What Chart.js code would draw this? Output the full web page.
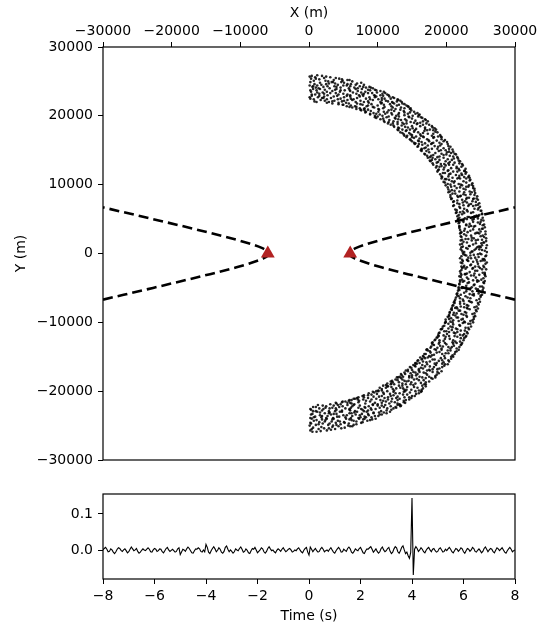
<!DOCTYPE html>
<html>
<head>
<meta charset="utf-8">
<title>Source locations</title>
<script src="https://cdn.jsdelivr.net/npm/chart.js@4.4.1/dist/chart.umd.min.js"></script>
<style>
  body { margin: 0; background: #fff; }
  #map { position: absolute; left: 0; top: 0; }
  #trace { position: absolute; left: 0; top: 480px; }
</style>
</head>
<body>
<canvas id="map" width="543" height="480"></canvas>
<canvas id="trace" width="543" height="145"></canvas>
<script>
// stations (m)
var stationX = [-6000, 6000];
var stationY = [0, 0];

// dashed hyperbola branches, km
var branchY = [-6.7, -6, -5, -4, -3, -2.5, -2, -1.5, -1, -0.75, -0.5, -0.25, 0, 0.25, 0.5, 0.75, 1, 1.5, 2, 2.5, 3, 4, 5, 6, 6.7];
var eastX = [30.0, 26.99, 22.72, 18.51, 14.41, 12.44, 10.55, 8.81, 7.32, 6.71, 6.25, 5.95, 5.85, 5.95, 6.25, 6.71, 7.32, 8.81, 10.55, 12.44, 14.41, 18.51, 22.72, 26.99, 30.0];
var westX = [-30.0, -26.99, -22.72, -18.51, -14.41, -12.44, -10.55, -8.81, -7.32, -6.71, -6.25, -5.95, -5.85, -5.95, -6.25, -6.71, -7.32, -8.81, -10.55, -12.44, -14.41, -18.51, -22.72, -26.99, -30.0];

// scattered sources [x, y], km
var sources = [
[0.4,25.8],[1.9,25.8],[0.9,25.6],[3.1,25.6],[2.2,25.5],[4.4,25.4],[0.3,25.4],[1.5,25.3],[5.6,25.2],[3.6,25.2],[0.7,25.1],[2.8,25.0],[6.3,25.0],[4.9,25.1],
[0.2,24.9],[1.6,24.8],[3.3,24.9],[5.1,24.8],[7.0,24.7],[0.8,24.6],[2.5,24.6],[4.2,24.5],[6.1,24.6],[8.0,24.5],[1.2,24.4],[3.7,24.3],[5.5,24.4],[7.4,24.3],[8.8,24.2],[0.5,24.2],[2.1,24.2],[4.6,24.1],[6.6,24.1],[9.3,24.0],[1.4,24.0],[3.0,24.0],[5.8,24.0],[8.3,24.1],[0.1,24.4],[7.6,24.8],
[0.6,23.9],[2.3,23.8],[4.0,23.9],[5.9,23.8],[7.7,23.9],[9.6,23.8],[1.1,23.7],[3.4,23.6],[5.2,23.7],[7.1,23.6],[8.9,23.7],[10.4,23.6],[0.3,23.5],[2.0,23.4],[4.5,23.5],[6.4,23.4],[8.2,23.5],[9.9,23.4],[11.1,23.3],[1.5,23.2],[3.1,23.3],[5.0,23.2],[6.9,23.2],[8.6,23.3],[10.7,23.2],[0.9,23.1],[2.7,23.0],[4.3,23.1],[6.0,23.0],[7.8,23.1],[9.5,23.0],[11.6,23.0],[3.8,23.8],
[0.4,22.9],[2.2,22.8],[4.1,22.9],[6.0,22.8],[7.9,22.9],[9.8,22.8],[11.7,22.8],[1.3,22.7],[3.2,22.6],[5.1,22.7],[7.0,22.6],[8.8,22.7],[10.6,22.6],[12.4,22.6],[0.2,22.5],[2.6,22.4],[4.6,22.5],[6.5,22.4],[8.3,22.5],[10.1,22.4],[11.9,22.5],[13.0,22.3],[1.7,22.3],[3.7,22.2],[5.6,22.3],[7.5,22.2],[9.3,22.3],[11.2,22.2],[12.8,22.1],[0.8,22.1],[2.9,22.0],[4.8,22.1],[6.8,22.0],[8.6,22.1],[10.4,22.0],[12.1,22.0],[13.5,22.0],[1.9,22.6],[9.6,22.9],
[2.6,21.9],[5.4,21.9],[8.7,21.9],[12.2,21.9],[3.4,21.8],[7.0,21.8],[10.5,21.8],[13.6,21.8],[4.3,21.7],[9.1,21.7],[11.8,21.7],[5.0,21.6],[7.8,21.6],[13.1,21.6],[6.1,21.5],[10.0,21.5],[14.2,21.5],[5.5,21.4],[8.4,21.4],[12.0,21.4],[6.9,21.3],[11.0,21.3],[14.5,21.3],[6.3,21.2],[9.5,21.2],[13.4,21.2],[7.4,21.1],[10.8,21.1],[14.8,21.1],[8.0,21.0],[12.6,21.0],
[7.5,20.9],[10.2,20.9],[13.3,20.9],[8.1,20.8],[11.6,20.8],[14.9,20.8],[9.0,20.7],[12.4,20.7],[8.3,20.6],[10.9,20.6],[15.3,20.6],[13.9,20.5],[9.4,20.4],[12.0,20.4],[15.8,20.4],[8.9,20.3],[11.1,20.3],[14.4,20.3],[10.3,20.2],[13.0,20.2],[16.0,20.1],[9.6,20.0],[12.7,20.0],[15.1,20.0],
[10.0,19.9],[13.1,19.9],[15.9,19.9],[11.3,19.8],[14.6,19.8],[9.8,19.7],[12.5,19.7],[16.5,19.7],[10.8,19.6],[14.0,19.5],[16.9,19.5],[11.7,19.4],[13.4,19.4],[15.5,19.3],[10.9,19.3],[12.3,19.2],[17.3,19.2],[14.8,19.1],[11.6,19.1],[16.2,19.0],[13.6,19.0],
[11.5,18.9],[14.2,18.9],[17.1,18.9],[12.9,18.8],[15.7,18.8],[11.9,18.7],[16.6,18.7],[13.5,18.6],[15.0,18.5],[17.9,18.5],[12.4,18.4],[14.4,18.3],[16.9,18.3],[13.1,18.2],[18.3,18.2],[15.6,18.1],[12.9,18.0],[14.7,18.0],[17.6,18.0],
[13.0,17.9],[15.4,17.9],[18.1,17.9],[14.1,17.8],[16.8,17.8],[13.3,17.6],[15.9,17.6],[18.7,17.6],[14.6,17.5],[17.3,17.4],[13.8,17.3],[16.2,17.3],[19.1,17.2],[15.0,17.2],[14.3,17.1],[17.9,17.1],[16.6,17.0],[18.8,17.0],
[14.2,16.9],[16.7,16.9],[19.3,16.9],[15.3,16.8],[18.1,16.8],[14.7,16.6],[17.2,16.6],[19.8,16.5],[15.9,16.4],[18.6,16.4],[15.0,16.3],[17.5,16.3],[20.1,16.2],[16.4,16.2],[19.0,16.1],[15.5,16.0],[17.9,16.0],
[15.4,15.9],[17.8,15.9],[20.2,15.9],[16.5,15.8],[19.1,15.7],[15.9,15.6],[18.3,15.6],[20.6,15.5],[17.0,15.4],[19.6,15.3],[16.4,15.2],[18.7,15.2],[20.9,15.1],[17.4,15.1],[16.3,15.0],[19.9,15.0],
[16.4,14.9],[18.9,14.9],[21.0,14.8],[17.5,14.7],[20.1,14.7],[16.8,14.5],[19.3,14.5],[21.4,14.4],[18.1,14.3],[20.5,14.2],[17.2,14.2],[19.0,14.1],[21.6,14.0],[17.6,14.0],[20.0,14.4],
[17.3,13.9],[19.6,13.9],[21.7,13.8],[18.4,13.7],[20.8,13.6],[17.6,13.5],[19.9,13.4],[22.0,13.4],[18.8,13.3],[21.2,13.2],[18.0,13.1],[20.3,13.1],[22.3,13.0],[19.2,13.0],[17.9,13.6],
[18.1,12.9],[20.4,12.9],[22.4,12.8],[19.3,12.7],[21.5,12.6],[18.5,12.5],[20.7,12.4],[22.8,12.3],[19.6,12.2],[21.9,12.1],[18.8,12.1],[20.2,12.0],[22.6,12.0],[19.0,12.6],
[18.7,11.9],[21.0,11.9],[22.9,11.8],[19.8,11.7],[22.2,11.6],[19.1,11.5],[21.4,11.4],[23.3,11.3],[20.3,11.2],[22.6,11.1],[19.4,11.1],[21.8,11.0],[20.6,11.6],[23.4,11.0],
[19.3,10.9],[21.6,10.9],[23.5,10.7],[20.4,10.7],[22.5,10.5],[19.6,10.4],[21.1,10.3],[23.8,10.2],[20.2,10.1],[22.1,10.0],[19.8,10.8],[22.9,10.9],[20.8,10.5],
[19.9,9.9],[22.3,9.9],[23.9,9.8],[20.7,9.7],[21.5,9.5],[24.1,9.4],[20.3,9.3],[22.8,9.3],[21.2,9.1],[23.4,9.0],[20.5,9.0],[22.0,9.6],[23.2,9.7],
[20.3,8.9],[22.6,8.9],[24.2,8.8],[21.3,8.7],[23.5,8.6],[20.6,8.5],[22.1,8.4],[24.5,8.3],[21.7,8.2],[23.0,8.1],[20.8,8.0],[24.0,8.0],[22.8,8.5],
[20.7,7.9],[22.9,7.9],[24.6,7.8],[21.6,7.7],[23.8,7.6],[21.0,7.5],[22.4,7.4],[24.8,7.3],[21.9,7.2],[23.3,7.1],[21.1,7.0],[24.3,7.0],[22.7,7.6],
[21.0,6.9],[23.2,6.9],[24.9,6.8],[22.0,6.6],[24.1,6.5],[21.3,6.4],[23.0,6.3],[25.1,6.2],[22.4,6.1],[23.9,6.0],[21.5,6.0],[24.6,6.4],
[21.4,5.9],[23.6,5.9],[25.2,5.8],[22.3,5.7],[24.4,5.5],[21.6,5.4],[23.1,5.3],[25.3,5.2],[22.7,5.1],[24.0,5.0],[21.7,5.0],[24.8,5.6],
[21.7,4.9],[23.8,4.9],[25.4,4.8],[22.5,4.6],[24.6,4.5],[21.8,4.4],[23.4,4.3],[25.5,4.2],[22.9,4.1],[24.2,4.0],[21.9,4.0],[25.0,4.6],
[21.9,3.9],[24.0,3.9],[25.6,3.8],[22.7,3.6],[24.8,3.5],[22.0,3.4],[23.5,3.3],[25.7,3.2],[23.1,3.1],[24.4,3.0],[22.1,3.0],[25.2,3.6],
[22.0,2.9],[24.2,2.9],[25.7,2.8],[22.9,2.6],[25.0,2.5],[22.2,2.4],[23.7,2.3],[25.8,2.2],[23.2,2.1],[24.6,2.0],[22.3,2.0],[25.3,2.6],
[22.1,1.9],[24.3,1.9],[25.8,1.8],[23.0,1.6],[25.1,1.5],[22.3,1.4],[23.9,1.3],[25.9,1.2],[23.4,1.1],[24.7,1.0],[22.4,1.0],[25.4,1.6],
[22.2,0.9],[24.5,0.9],[25.8,0.8],[23.1,0.7],[25.2,0.5],[22.3,0.4],[23.8,0.3],[25.9,0.2],[23.5,0.1],[24.8,0.6],[22.6,0.2],[24.1,0.5],
[22.3,-0.9],[25.5,-0.8],[23.6,-0.7],[24.7,-0.5],[22.2,-0.4],[25.8,-0.3],[24.0,-0.2],[22.5,-0.1],[25.1,-0.1],[23.2,-0.6],[24.4,-0.9],[22.9,-0.3],
[22.2,-1.9],[25.4,-1.8],[23.5,-1.7],[24.6,-1.5],[22.3,-1.4],[25.9,-1.3],[23.9,-1.2],[22.4,-1.1],[25.0,-1.1],[23.1,-1.0],[25.6,-1.0],[24.2,-1.9],
[22.1,-2.9],[25.3,-2.8],[23.4,-2.7],[24.5,-2.5],[22.2,-2.4],[25.8,-2.3],[23.8,-2.2],[22.3,-2.1],[24.9,-2.1],[23.0,-2.0],[25.5,-2.0],[24.1,-2.9],
[22.0,-3.9],[25.1,-3.8],[23.2,-3.7],[24.3,-3.5],[22.1,-3.4],[25.7,-3.3],[23.6,-3.2],[22.2,-3.1],[24.8,-3.1],[22.8,-3.0],[25.6,-3.0],[23.9,-3.9],
[21.8,-4.9],[24.9,-4.8],[22.9,-4.7],[24.1,-4.5],[21.9,-4.4],[25.5,-4.3],[23.3,-4.2],[22.0,-4.1],[24.5,-4.1],[22.6,-4.0],[25.6,-4.0],[23.7,-4.9],
[21.5,-5.9],[24.7,-5.8],[22.6,-5.7],[23.8,-5.5],[21.7,-5.4],[25.3,-5.3],[23.0,-5.2],[21.8,-5.1],[24.3,-5.1],[22.4,-5.0],[25.4,-5.0],[23.4,-5.9],
[21.2,-6.9],[24.4,-6.8],[22.4,-6.7],[23.5,-6.5],[21.4,-6.4],[25.0,-6.3],[22.8,-6.2],[21.6,-6.1],[24.0,-6.1],[22.1,-6.0],[25.2,-6.0],[23.3,-6.9],
[20.8,-7.9],[24.1,-7.8],[22.1,-7.7],[23.2,-7.6],[21.0,-7.5],[24.7,-7.4],[22.6,-7.3],[21.2,-7.2],[23.7,-7.1],[22.0,-7.0],[24.9,-7.0],[21.5,-7.8],[23.0,-7.9],
[20.4,-8.9],[23.8,-8.8],[21.5,-8.7],[22.9,-8.6],[20.5,-8.5],[24.4,-8.4],[22.0,-8.3],[20.8,-8.2],[23.4,-8.1],[21.6,-8.0],[24.6,-8.0],[22.5,-8.9],[21.1,-8.6],
[19.9,-9.9],[23.5,-9.8],[21.0,-9.7],[22.2,-9.6],[20.4,-9.5],[24.0,-9.5],[21.7,-9.3],[20.2,-9.2],[23.0,-9.2],[21.3,-9.0],[24.2,-9.1],[22.6,-9.9],[20.7,-9.4],
[19.4,-10.9],[22.8,-10.8],[20.9,-10.7],[23.6,-10.6],[19.7,-10.5],[21.9,-10.4],[20.3,-10.2],[23.2,-10.2],[19.9,-10.0],[22.4,-10.1],[21.4,-10.9],[20.6,-10.6],[23.9,-10.0],
[18.8,-11.9],[22.0,-11.8],[20.1,-11.7],[23.1,-11.6],[19.0,-11.5],[21.6,-11.4],[19.7,-11.3],[22.7,-11.2],[20.8,-11.1],[19.3,-11.0],[23.3,-11.0],[21.3,-11.6],[22.4,-11.9],[20.4,-11.4],
[18.0,-12.9],[21.3,-12.8],[19.6,-12.7],[22.5,-12.6],[18.4,-12.5],[20.5,-12.4],[22.1,-12.3],[18.7,-12.2],[19.9,-12.1],[21.2,-12.0],[22.8,-12.1],[18.9,-12.0],[20.9,-12.9],[19.0,-12.6],
[17.2,-13.9],[20.6,-13.8],[18.7,-13.7],[21.9,-13.6],[17.8,-13.5],[19.5,-13.5],[21.1,-13.4],[18.2,-13.3],[20.0,-13.2],[22.2,-13.2],[18.9,-13.1],[21.5,-13.0],[17.9,-13.0],[19.3,-13.8],[20.8,-13.6],
[16.6,-14.9],[19.7,-14.9],[18.2,-14.7],[21.2,-14.6],[17.0,-14.6],[20.3,-14.5],[17.7,-14.4],[19.0,-14.3],[21.5,-14.2],[17.3,-14.1],[20.6,-14.1],[18.5,-14.0],[17.9,-14.8],[19.4,-14.6],[21.8,-14.0],
[15.5,-15.9],[18.6,-15.9],[17.1,-15.8],[20.4,-15.7],[15.8,-15.6],[19.4,-15.5],[16.4,-15.4],[18.0,-15.4],[20.7,-15.3],[16.9,-15.2],[19.2,-15.2],[16.2,-15.1],[21.0,-15.0],[17.7,-15.0],[18.9,-15.6],[16.6,-15.7],
[14.4,-16.9],[17.5,-16.9],[16.0,-16.8],[19.0,-16.7],[14.9,-16.6],[18.2,-16.5],[15.5,-16.4],[16.9,-16.4],[19.7,-16.3],[15.2,-16.2],[18.5,-16.2],[17.2,-16.1],[20.2,-16.1],[15.7,-16.0],[16.3,-16.6],[19.4,-16.0],[18.0,-16.8],
[13.2,-17.9],[16.1,-17.9],[14.6,-17.8],[18.4,-17.8],[13.5,-17.7],[17.2,-17.6],[14.0,-17.5],[15.8,-17.5],[18.9,-17.4],[13.9,-17.3],[16.7,-17.3],[15.2,-17.2],[18.0,-17.2],[14.4,-17.1],[19.3,-17.1],[16.0,-17.0],[17.6,-17.0],[15.0,-17.7],
[11.4,-18.9],[13.6,-18.9],[16.3,-18.8],[12.2,-18.7],[14.9,-18.7],[17.5,-18.6],[12.1,-18.5],[13.9,-18.5],[16.0,-18.4],[12.6,-18.3],[15.3,-18.3],[18.0,-18.2],[13.4,-18.1],[17.0,-18.1],[12.8,-18.0],[14.6,-18.0],[16.5,-18.0],[18.4,-18.0],[14.2,-18.6],
[10.1,-19.9],[12.4,-19.9],[14.9,-19.8],[16.4,-19.8],[10.6,-19.7],[13.7,-19.6],[11.2,-19.5],[15.8,-19.5],[12.0,-19.4],[14.3,-19.4],[17.0,-19.3],[10.8,-19.2],[13.1,-19.2],[15.2,-19.1],[11.9,-19.0],[16.8,-19.0],[14.1,-19.0],[12.7,-19.6],[16.0,-19.9],[11.5,-19.3],[13.9,-19.8],
[7.2,-20.9],[11.5,-20.9],[14.6,-20.9],[9.4,-20.8],[12.9,-20.8],[7.8,-20.7],[10.6,-20.7],[15.4,-20.7],[8.6,-20.6],[13.7,-20.5],[9.9,-20.4],[11.8,-20.4],[15.6,-20.4],[8.7,-20.3],[13.2,-20.3],[10.8,-20.2],[14.7,-20.2],[9.3,-20.1],[12.3,-20.1],[16.3,-20.1],[9.8,-20.0],[11.4,-20.0],[14.0,-20.0],[16.4,-20.0],
[3.1,-21.9],[6.6,-21.9],[10.0,-21.9],[13.2,-21.9],[4.0,-21.8],[8.2,-21.8],[11.7,-21.8],[3.9,-21.7],[6.0,-21.7],[9.6,-21.7],[14.0,-21.7],[4.8,-21.6],[12.5,-21.6],[5.3,-21.5],[8.9,-21.5],[11.2,-21.5],[5.8,-21.4],[7.3,-21.4],[13.8,-21.4],[6.2,-21.3],[10.4,-21.3],[12.9,-21.3],[7.9,-21.2],[14.6,-21.2],[6.5,-21.1],[9.8,-21.1],[12.1,-21.1],[7.0,-21.0],[11.0,-21.0],[14.9,-21.0],[9.1,-21.2],
[1.0,-22.9],[2.9,-22.9],[4.8,-22.8],[6.7,-22.9],[8.6,-22.8],[10.5,-22.9],[12.0,-22.7],[0.3,-22.7],[2.1,-22.6],[4.0,-22.7],[5.9,-22.6],[7.8,-22.7],[9.7,-22.6],[11.4,-22.5],[1.5,-22.5],[3.4,-22.4],[5.3,-22.5],[7.2,-22.4],[9.0,-22.5],[10.9,-22.3],[12.7,-22.4],[0.6,-22.3],[2.5,-22.2],[4.4,-22.3],[6.3,-22.2],[8.1,-22.3],[10.0,-22.1],[11.9,-22.2],[13.3,-22.2],[1.3,-22.0],[3.6,-22.1],[5.6,-22.0],[7.4,-22.1],[9.3,-22.0],[11.1,-22.0],[12.9,-22.0],[13.4,-22.1],[6.0,-22.8],[3.0,-22.5],
[0.2,-23.9],[1.8,-23.8],[3.5,-23.9],[5.3,-23.8],[7.2,-23.9],[9.1,-23.8],[0.9,-23.7],[2.7,-23.6],[4.4,-23.7],[6.3,-23.6],[8.1,-23.7],[10.1,-23.6],[1.6,-23.5],[3.2,-23.4],[5.0,-23.5],[6.8,-23.4],[8.7,-23.5],[10.6,-23.4],[0.5,-23.3],[2.3,-23.2],[4.0,-23.3],[5.9,-23.2],[7.7,-23.3],[9.4,-23.2],[11.3,-23.2],[1.2,-23.0],[3.0,-23.1],[4.8,-23.0],[6.6,-23.1],[8.4,-23.0],[10.2,-23.1],[11.8,-23.0],[7.5,-23.8],
[1.0,-24.9],[2.8,-24.9],[4.6,-24.8],[6.5,-24.9],[0.3,-24.7],[2.0,-24.7],[3.9,-24.6],[5.8,-24.7],[7.6,-24.6],[1.5,-24.5],[3.3,-24.4],[5.1,-24.5],[6.9,-24.4],[8.5,-24.3],[0.7,-24.3],[2.4,-24.2],[4.2,-24.3],[6.2,-24.2],[7.9,-24.1],[9.2,-24.1],[0.4,-24.0],[1.9,-24.1],[3.6,-24.0],[5.4,-24.0],[7.3,-24.0],[9.7,-24.0],
[1.1,-25.9],[0.2,-25.7],[2.6,-25.7],[1.4,-25.5],[3.8,-25.5],[0.6,-25.3],[2.9,-25.4],[5.2,-25.3],[1.8,-25.2],[4.3,-25.1],[0.1,-25.0],[3.5,-25.0],[6.0,-25.1],[5.7,-25.0],
[1.2,25.9],[0.1,25.7],[2.5,25.7],[3.9,25.5],[1.0,25.4],[4.8,25.3],[2.4,25.1],[5.9,25.2],
[2.9,24.7],[4.7,24.9],[6.8,24.5],[1.8,24.5],[3.8,24.7],[5.6,24.6],[0.6,24.3],[7.9,24.2],[2.7,24.3],[6.0,24.3],[9.0,24.1],[1.0,24.1],[4.0,24.2],[7.1,24.0],[5.0,24.4],[3.5,24.9],
[1.6,23.9],[6.8,23.9],[8.6,23.8],[0.2,23.7],[4.6,23.7],[9.8,23.7],[2.6,23.5],[6.0,23.6],[7.6,23.4],[10.9,23.5],[1.2,23.4],[3.9,23.3],[9.2,23.3],[5.6,23.1],[0.4,23.1],[7.3,23.0],[10.4,23.0],[2.2,23.2],[11.4,23.1],[8.0,23.2],
[1.5,22.9],[5.5,22.9],[10.8,22.9],[3.6,22.8],[7.4,22.8],[0.1,22.7],[9.6,22.7],[12.2,22.7],[2.1,22.6],[6.1,22.5],[11.0,22.5],[0.7,22.4],[4.2,22.4],[8.9,22.4],[12.9,22.4],[2.3,22.2],[6.3,22.3],[10.6,22.3],[13.3,22.2],[1.1,22.0],[5.1,22.2],[8.0,22.0],[11.5,22.1],[3.4,22.1],
[4.3,21.9],[10.6,21.9],[5.8,21.8],[12.4,21.8],[7.5,21.7],[13.9,21.7],[4.9,21.6],[10.9,21.6],[8.6,21.5],[12.8,21.5],[6.7,21.4],[14.4,21.4],[9.3,21.3],[5.9,21.3],[12.2,21.2],[8.1,21.1],[13.9,21.1],[6.9,21.0],[10.1,21.0],[14.7,21.0],
[8.6,20.9],[12.0,20.9],[7.6,20.8],[13.8,20.7],[10.1,20.6],[14.7,20.5],[8.2,20.5],[11.4,20.5],[15.5,20.3],[9.8,20.3],[13.1,20.4],[8.9,20.2],[12.1,20.2],[16.1,20.2],[10.7,20.0],[13.9,20.1],
[11.6,19.9],[14.5,19.9],[9.6,19.8],[16.3,19.8],[12.6,19.6],[15.0,19.6],[10.4,19.5],[13.0,19.5],[17.0,19.4],[11.0,19.1],[14.2,19.3],[16.6,19.2],[12.9,19.1],[15.3,19.0],
[12.2,18.9],[15.8,18.9],[13.8,18.8],[17.5,18.7],[12.3,18.6],[16.2,18.5],[14.0,18.4],[18.0,18.3],[13.0,18.3],[15.1,18.2],[16.9,18.1],[13.6,18.0],[18.5,18.0],
[14.2,17.9],[17.2,17.9],[15.3,17.7],[18.4,17.7],[13.6,17.5],[16.6,17.5],[14.8,17.3],[18.1,17.4],[13.9,17.1],[16.3,17.1],[15.6,17.0],[19.2,17.0],
[15.0,16.9],[18.2,16.9],[16.1,16.7],[19.3,16.6],[14.8,16.5],[17.4,16.5],[16.0,16.3],[19.6,16.3],[15.3,16.1],[18.1,16.1],[16.9,16.0],
[16.0,15.9],[19.3,15.9],[17.3,15.7],[20.3,15.6],[15.8,15.5],[18.8,15.5],[16.8,15.3],[20.4,15.2],[17.9,15.2],[16.4,15.1],[19.2,15.0],
[17.1,14.9],[20.4,14.8],[18.4,14.6],[21.2,14.5],[16.9,14.4],[19.6,14.3],[17.8,14.2],[21.0,14.1],[18.7,14.0],[20.7,14.6],
[18.0,13.9],[21.1,13.8],[19.0,13.6],[21.8,13.5],[17.7,13.4],[20.5,13.3],[18.6,13.2],[21.9,13.1],[19.7,13.0],[20.2,13.7],
[21.0,12.9],[18.6,12.7],[22.2,12.6],[19.7,12.5],[21.8,12.3],[18.9,12.2],[20.3,12.1],[22.7,12.0],[19.9,12.8],[21.5,12.4],
[21.6,11.9],[19.5,11.7],[22.8,11.6],[20.4,11.5],[21.9,11.3],[19.3,11.2],[23.2,11.1],[20.9,11.0],[22.3,11.4],
[22.0,10.9],[20.0,10.8],[23.4,10.6],[21.2,10.5],[19.8,10.3],[22.9,10.3],[21.8,10.1],[23.7,10.0],[20.6,10.0],
[23.3,9.9],[21.2,9.8],[20.2,9.6],[23.9,9.5],[22.5,9.4],[20.8,9.2],[24.1,9.1],[21.9,9.0],[22.9,9.7],
[23.7,8.9],[20.9,8.7],[22.5,8.6],[24.1,8.5],[21.6,8.4],[20.6,8.2],[23.3,8.1],[24.4,8.0],[22.0,8.3],
[23.9,7.9],[22.3,7.8],[21.1,7.6],[24.3,7.5],[23.0,7.4],[21.6,7.3],[24.6,7.1],[22.5,7.0],[23.6,7.2],
[23.9,6.9],[21.9,6.8],[24.7,6.6],[22.6,6.5],[21.5,6.3],[25.0,6.2],[23.1,6.1],[22.0,6.0],
[22.6,5.9],[25.2,5.7],[21.8,5.6],[24.1,5.4],[23.3,5.3],[21.9,5.2],[24.6,5.1],[23.0,5.0],
[25.1,4.9],[22.4,4.8],[23.9,4.6],[21.9,4.5],[24.9,4.3],[22.9,4.2],[25.3,4.1],[23.6,4.0],
[23.3,3.9],[21.9,3.7],[25.3,3.6],[23.9,3.5],[22.6,3.3],[25.0,3.2],[22.2,3.1],[24.6,3.0],
[24.8,2.9],[22.6,2.8],[23.6,2.6],[22.1,2.5],[25.5,2.4],[24.0,2.2],[22.8,2.1],[25.2,2.0],
[23.7,1.9],[22.5,1.7],[25.5,1.6],[24.3,1.5],[22.0,1.3],[25.2,1.2],[23.3,1.1],[24.9,1.0],
[25.0,0.9],[22.9,0.8],[24.3,0.7],[22.1,0.6],[25.6,0.4],[23.7,0.3],[22.4,0.1],[24.9,0.0],
[23.0,-0.9],[25.3,-0.8],[22.0,-0.7],[24.2,-0.6],[25.7,-0.4],[23.5,-0.3],[22.7,-0.2],[24.6,-0.1],
[24.7,-1.9],[22.6,-1.8],[23.6,-1.6],[25.7,-1.5],[22.1,-1.3],[24.5,-1.2],[23.2,-1.1],[25.3,-1.0],
[23.0,-2.9],[25.6,-2.8],[22.0,-2.6],[24.2,-2.5],[25.2,-2.3],[22.8,-2.2],[23.9,-2.1],[22.5,-2.0],
[24.5,-3.9],[22.3,-3.8],[25.4,-3.6],[23.0,-3.5],[21.9,-3.3],[24.0,-3.2],[25.6,-3.1],[22.7,-3.0],
[22.3,-4.9],[25.2,-4.8],[24.0,-4.6],[21.9,-4.5],[23.1,-4.3],[25.4,-4.2],[22.4,-4.1],[24.7,-4.0],
[24.0,-5.9],[21.6,-5.8],[25.1,-5.6],[22.9,-5.5],[21.9,-5.3],[24.6,-5.2],[23.5,-5.1],[22.2,-5.0],
[22.5,-6.9],[21.3,-6.7],[24.8,-6.6],[23.1,-6.4],[21.8,-6.2],[25.0,-6.1],[23.8,-6.0],[22.0,-6.5],
[21.3,-7.9],[24.4,-7.7],[20.9,-7.6],[23.0,-7.5],[22.0,-7.3],[24.6,-7.2],[21.1,-7.1],[23.5,-7.0],[22.6,-7.8],
[21.0,-8.9],[24.1,-8.7],[20.5,-8.6],[22.7,-8.5],[21.8,-8.3],[24.3,-8.2],[20.7,-8.1],[23.1,-8.0],[22.2,-8.8],
[20.6,-9.9],[23.8,-9.7],[19.9,-9.6],[22.4,-9.5],[21.5,-9.3],[24.0,-9.2],[20.4,-9.1],[22.9,-9.0],[21.8,-9.8],
[20.3,-10.9],[23.2,-10.8],[19.5,-10.6],[22.0,-10.5],[21.0,-10.3],[23.5,-10.2],[19.8,-10.1],[22.7,-10.0],[20.9,-10.0],
[19.6,-11.9],[22.6,-11.7],[18.9,-11.6],[21.1,-11.5],[23.0,-11.4],[20.0,-11.3],[22.1,-11.2],[19.2,-11.0],[21.6,-11.0],
[19.0,-12.9],[22.0,-12.8],[18.3,-12.6],[21.0,-12.6],[19.8,-12.4],[22.6,-12.3],[18.6,-12.2],[21.6,-12.1],[20.4,-12.0],[22.9,-12.0],
[18.3,-13.9],[21.5,-13.8],[17.7,-13.7],[20.3,-13.6],[19.1,-13.4],[22.1,-13.3],[18.0,-13.2],[21.0,-13.1],[19.8,-13.0],[22.3,-13.0],
[17.5,-14.9],[20.9,-14.8],[16.8,-14.6],[19.9,-14.5],[18.6,-14.4],[21.3,-14.3],[17.6,-14.2],[20.2,-14.1],[17.1,-14.0],[19.3,-14.0],
[16.1,-15.9],[19.6,-15.8],[17.6,-15.7],[15.9,-15.5],[20.3,-15.5],[18.3,-15.4],[16.5,-15.3],[19.8,-15.2],[17.3,-15.1],[20.7,-15.0],[16.7,-15.0],
[15.0,-16.9],[18.7,-16.8],[16.6,-16.7],[14.7,-16.5],[19.4,-16.5],[17.6,-16.4],[15.4,-16.3],[16.5,-16.2],[19.8,-16.1],[15.5,-16.0],[18.3,-16.0],
[13.7,-17.9],[17.5,-17.9],[15.6,-17.7],[18.6,-17.6],[13.4,-17.5],[17.0,-17.4],[14.8,-17.4],[16.1,-17.2],[18.7,-17.2],[14.1,-17.0],[17.2,-17.0],[15.5,-17.3],
[12.0,-18.9],[15.5,-18.9],[13.1,-18.7],[17.0,-18.7],[11.9,-18.6],[14.5,-18.5],[16.7,-18.4],[12.9,-18.4],[15.7,-18.2],[17.8,-18.1],[13.6,-18.3],[15.0,-18.0],[13.0,-18.0],
[10.6,-19.9],[14.2,-19.8],[12.2,-19.7],[16.6,-19.6],[10.3,-19.5],[13.3,-19.5],[15.3,-19.4],[11.4,-19.3],[16.5,-19.2],[13.6,-19.2],[11.2,-19.1],[14.8,-19.0],[12.4,-19.0],[17.0,-19.0],
[8.0,-20.9],[13.9,-20.9],[10.2,-20.8],[15.0,-20.7],[8.0,-20.6],[12.3,-20.6],[9.1,-20.5],[14.3,-20.5],[10.9,-20.4],[16.0,-20.3],[12.6,-20.3],[9.5,-20.2],[13.8,-20.1],[10.1,-20.0],[15.5,-20.0],[11.9,-20.7],
[4.6,-21.9],[9.3,-21.9],[6.2,-21.8],[12.9,-21.8],[5.6,-21.7],[10.6,-21.7],[7.2,-21.6],[13.8,-21.6],[4.9,-21.5],[12.0,-21.5],[8.3,-21.4],[10.8,-21.4],[5.9,-21.3],[14.1,-21.3],[7.1,-21.2],[11.5,-21.2],[6.7,-21.1],[13.2,-21.1],[8.6,-21.0],[12.7,-21.0],
[0.6,-22.9],[3.8,-22.9],[8.0,-22.9],[11.3,-22.8],[1.9,-22.8],[5.9,-22.7],[9.1,-22.7],[0.2,-22.6],[3.9,-22.5],[7.6,-22.6],[12.3,-22.5],[2.4,-22.4],[6.1,-22.4],[10.3,-22.4],[1.0,-22.3],[4.9,-22.2],[8.7,-22.2],[12.6,-22.3],[2.0,-22.1],[6.5,-22.0],[10.6,-22.1],[13.2,-22.0],[4.2,-22.0],[8.2,-22.4],
[2.5,-23.9],[6.1,-23.9],[8.3,-23.8],[0.7,-23.8],[4.1,-23.7],[9.6,-23.6],[1.9,-23.6],[5.5,-23.5],[7.4,-23.5],[10.3,-23.4],[0.3,-23.4],[3.6,-23.3],[8.6,-23.3],[6.2,-23.2],[1.6,-23.1],[10.9,-23.1],[4.5,-23.0],[7.0,-23.0],[9.4,-23.1],[2.9,-23.2],
[4.0,-24.9],[1.4,-24.8],[6.9,-24.8],[3.0,-24.7],[5.2,-24.6],[0.2,-24.6],[7.8,-24.5],[2.3,-24.4],[4.5,-24.4],[6.5,-24.3],[1.1,-24.2],[8.9,-24.2],[3.4,-24.1],[5.9,-24.1],[8.1,-24.0],[2.6,-24.0],
[0.5,-25.9],[1.7,-25.8],[3.2,-25.6],[0.4,-25.5],[2.2,-25.4],[4.7,-25.4],[3.4,-25.2],[6.3,-25.1]
];

// recorded trace, one sample every 0.05 s from -8 s
var traceStart = -8, traceStep = 0.05;
var amplitude = [
0.001,0.005,0.008,0.003,-0.004,-0.003,0.004,0.001,-0.005,-0.009,-0.004,0.003,0.007,0.005,0,-0.003,0.001,0.004,-0.001,-0.007,
-0.004,0.003,0.009,0.004,-0.001,0.001,0.005,-0.003,-0.008,-0.005,0,0.004,0.001,-0.001,0.003,0.007,0.003,-0.004,-0.005,0.001,
0.005,0.003,-0.003,-0.001,0.004,0.003,-0.004,-0.007,-0.001,0.005,0.008,0.001,-0.003,0,0.003,-0.001,-0.005,-0.003,0.004,0.007,
-0.012,-0.005,0.003,0.001,-0.003,0.004,0.009,0.005,-0.001,-0.007,-0.008,-0.001,0.004,0.003,0.007,0.004,-0.003,-0.005,0.001,-0.004,
0.016,0.008,-0.005,-0.009,-0.001,0.005,0.01,0.004,-0.004,0,0.007,0.003,-0.005,-0.008,-0.003,0.008,0.012,0.003,-0.004,0.001,
-0.003,-0.008,-0.004,0.004,0.001,-0.001,0.005,0.009,0.003,-0.005,-0.003,0.004,0,-0.007,-0.009,-0.001,0.005,0.003,0.008,0.001,
-0.007,-0.003,0.001,0.007,0.004,-0.004,-0.008,-0.003,0.005,0.01,0.004,-0.001,0.001,-0.004,-0.007,0,0.004,0.001,-0.003,0.003,
0.007,0.001,-0.004,-0.001,0.003,0.005,0.001,-0.005,-0.003,0.001,-0.001,0.004,0.007,0.001,-0.004,-0.007,0,0.005,0.008,-0.005,
-0.013,0.009,0.003,-0.004,0.001,0.005,-0.001,-0.005,-0.003,0.004,0.008,0.003,-0.004,-0.001,0.001,-0.003,0.003,0.007,0.001,-0.005,
-0.008,-0.001,0.004,0.008,0.003,-0.005,-0.004,0.003,0,-0.003,0.005,0.009,0.004,-0.005,-0.008,-0.003,0.004,0.001,-0.001,0.005,
0.008,0.001,-0.007,-0.009,-0.001,0.004,0.003,0.007,0.01,0.003,-0.005,-0.001,0.004,-0.003,-0.008,-0.004,0.005,0.009,0.001,-0.004,
-0.001,0.005,0.008,-0.003,-0.009,-0.005,0.004,0.01,0.007,-0.004,-0.008,-0.001,0.008,0.012,0.001,-0.009,-0.005,-0.015,-0.022,-0.006,
0.144,-0.068,0.003,0.01,0.005,-0.003,0.001,0.007,0.003,-0.004,-0.007,0,0.005,0.008,0.001,-0.004,0.003,0.005,-0.001,-0.005,
-0.003,0.004,0.007,0.001,-0.005,-0.003,0.003,-0.001,0.004,0.008,0.003,-0.004,-0.007,-0.001,0.005,0.003,-0.003,0.001,0.007,0.004,
-0.004,-0.008,-0.001,0.005,0.003,-0.003,0.001,0.008,0.005,-0.003,-0.005,0,0.004,-0.001,-0.007,-0.003,0.005,0.009,0.003,-0.004,
0.001,0.005,0.003,-0.004,-0.007,0,0.007,0.004,-0.001,0.003,0.007,0.001,-0.005,-0.008,-0.001,0.004,0.008,0.003,-0.004,-0.001,
0.001
];

var xTicks = [-30000, -20000, -10000, 0, 10000, 20000, 30000];
var yTicks = [-30000, -20000, -10000, 0, 10000, 20000, 30000];
var timeTicks = [-8, -6, -4, -2, 0, 2, 4, 6, 8];
var ampTicks = [0, 0.1];

Chart.defaults.font.family = "'DejaVu Sans', sans-serif";
Chart.defaults.font.size = 14;
Chart.defaults.color = '#000';

function minus(v) {
    return v < 0 ? '\u2212' + Math.abs(v) : String(v);
}

function fixedTicks(list) {
    return function (scale) {
        scale.ticks = list.map(function (v) { return { value: v }; });
    };
}

function axis(position, min, max, ticks, label, size, titlePad, labelPad, fmt) {
    return {
        type: 'linear',
        position: position,
        min: min,
        max: max,
        afterBuildTicks: fixedTicks(ticks),
        afterFit: function (scale) {
            if (position === 'left') scale.width = size; else scale.height = size;
        },
        grid: { drawOnChartArea: false, drawTicks: true, tickLength: 5, color: '#000', lineWidth: 1 },
        border: { display: false },
        ticks: { padding: labelPad, maxRotation: 0, autoSkip: false, callback: fmt },
        title: { display: label !== '', text: label, padding: { top: titlePad, bottom: 0 } }
    };
}

var frame = {
    id: 'frame',
    afterDatasetsDraw: function (chart) {
        var a = chart.chartArea, ctx = chart.ctx;
        ctx.save();
        ctx.strokeStyle = '#000';
        ctx.lineWidth = 1.2;
        ctx.strokeRect(a.left, a.top, a.right - a.left, a.bottom - a.top);
        ctx.restore();
    }
};

function mapChart() {
    var stations = stationX.map(function (x, i) { return { x: x, y: stationY[i] }; });
    var east = branchY.map(function (y, i) { return { x: eastX[i] * 1000, y: y * 1000 }; });
    var west = branchY.map(function (y, i) { return { x: westX[i] * 1000, y: y * 1000 }; });
    var cloud = sources.map(function (p) { return { x: p[0] * 1000, y: p[1] * 1000 }; });

    new Chart(document.getElementById('map'), {
        type: 'scatter',
        data: {
            datasets: [
                { data: stations, pointStyle: 'triangle', pointRadius: 8, backgroundColor: '#b22222', borderWidth: 0 },
                { data: east, showLine: true, pointRadius: 0, borderColor: '#000', borderWidth: 2.6, borderDash: [10, 5], fill: false },
                { data: west, showLine: true, pointRadius: 0, borderColor: '#000', borderWidth: 2.6, borderDash: [10, 5], fill: false },
                { data: cloud, pointRadius: 1.3, backgroundColor: 'rgba(0,0,0,0.85)', borderWidth: 0 }
            ]
        },
        options: {
            responsive: false,
            animation: false,
            events: [],
            layout: { padding: { left: 0, top: 0, right: 28, bottom: 20 } },
            plugins: { legend: { display: false }, tooltip: { enabled: false } },
            scales: {
                x: axis('top', -30000, 30000, xTicks, 'X (m)', 47, 5, 2, minus),
                y: axis('left', -30000, 30000, yTicks, 'Y (m)', 103, 13, 5, minus)
            }
        },
        plugins: [frame]
    });
}

function traceChart() {
    var points = amplitude.map(function (v, i) { return { x: traceStart + i * traceStep, y: v }; });

    new Chart(document.getElementById('trace'), {
        type: 'scatter',
        data: {
            datasets: [
                { data: points, showLine: true, pointRadius: 0, borderColor: '#000', borderWidth: 1.1, fill: false }
            ]
        },
        options: {
            responsive: false,
            animation: false,
            events: [],
            layout: { padding: { left: 0, top: 14, right: 28, bottom: 0 } },
            plugins: { legend: { display: false }, tooltip: { enabled: false } },
            scales: {
                x: axis('bottom', -8, 8, timeTicks, 'Time (s)', 46, 2, 4, minus),
                y: axis('left', -0.079, 0.155, ampTicks, '', 103, 13, 5, function (v) { return v.toFixed(1); })
            }
        },
        plugins: [frame]
    });
}

document.addEventListener('DOMContentLoaded', function () {
    mapChart();
    traceChart();
});
</script>
</body>
</html>
